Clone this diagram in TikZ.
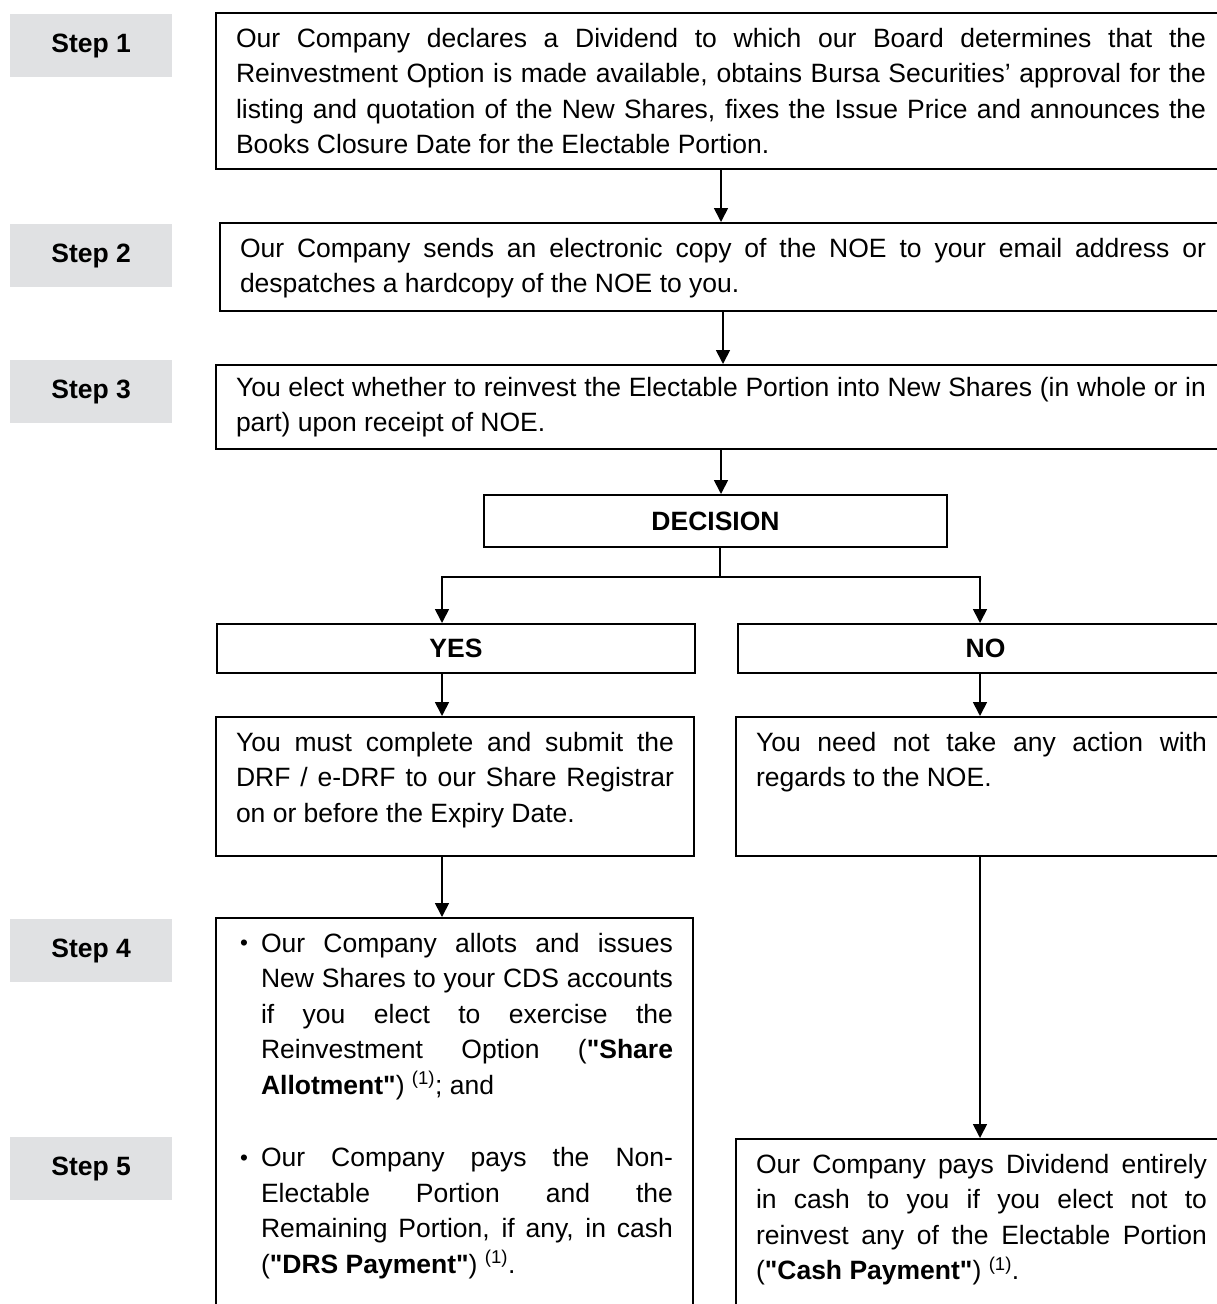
\documentclass[tikz,border=0pt]{standalone}
\usepackage{fontspec}
\setmainfont{Liberation Sans}[Ligatures=TeXOff]
\usetikzlibrary{arrows.meta}
\pgfdeclarelayer{edgelayer}
\pgfdeclarelayer{nodelayer}
\pgfsetlayers{edgelayer,nodelayer,main}
\definecolor{stepgray}{RGB}{224,225,227}
\tikzstyle{stepbox}=[fill=stepgray,minimum width=162pt,minimum height=63pt,inner sep=0pt,anchor=north west,font=\bfseries]
\tikzstyle{flowbox}=[draw=black,line width=2pt,fill=white,anchor=north west,inner xsep=20pt,inner ysep=0pt,align=justify,text height=34pt]
\tikzstyle{choice}=[draw=black,line width=2pt,fill=white,anchor=north west,inner sep=0pt,font=\bfseries]
\tikzstyle{transition}=[-{Triangle[width=14pt,length=14pt]},draw=black,line width=1.7pt]
\tikzstyle{branch}=[draw=black,line width=1.7pt]
\newcommand{\flowitem}{\hangindent=25pt\hangafter=1\noindent\makebox[25pt][l]{\hspace{4pt}\raisebox{1.2pt}{\scalebox{0.85}{\textbullet}}}}
\tolerance=10000
\hyphenpenalty=10000

\begin{document}
\fontsize{26.5}{35.5}\selectfont
\begin{tikzpicture}[x=1pt,y=-1pt]
	\useasboundingbox (0, 0) rectangle (1216, 1304);
	\begin{pgfonlayer}{nodelayer}
		\node [style=stepbox] (0) at (10, 14) {Step 1};
		\node [style=stepbox] (1) at (10, 224) {Step 2};
		\node [style=stepbox] (2) at (10, 360) {Step 3};
		\node [style=stepbox] (3) at (10, 919) {Step 4};
		\node [style=stepbox] (4) at (10, 1137) {Step 5};
		\node [style=flowbox, text width=970pt, text depth=122pt] (5) at (215, 12) {Our Company declares a Dividend to which our Board determines that the\linebreak Reinvestment Option is made available, obtains Bursa Securities’ approval for the\linebreak listing and quotation of the New Shares, fixes the Issue Price and announces the\linebreak Books Closure Date for the Electable Portion.};
		\node [style=flowbox, text width=966pt, text depth=54pt] (6) at (219, 222) {Our Company sends an electronic copy of the NOE to your email address or\linebreak despatches a hardcopy of the NOE to you.};
		\node [style=flowbox, text width=970pt, text height=31pt, text depth=53pt] (7) at (215, 364) {You elect whether to reinvest the Electable Portion into New Shares (in whole or in\linebreak part) upon receipt of NOE.};
		\node [style=choice, minimum width=463pt, minimum height=52pt] (8) at (483, 494) {DECISION};
		\node [style=choice, minimum width=478pt, minimum height=49pt] (9) at (216, 623) {YES};
		\node [style=choice, minimum width=495pt, minimum height=49pt] (10) at (737, 623) {NO};
		\node [style=flowbox, text width=438pt, text depth=105pt] (11) at (215, 716) {You must complete and submit the\linebreak DRF / e-DRF to our Share Registrar\linebreak on or before the Expiry Date.};
		\node [style=flowbox, text width=451pt, text depth=105pt] (12) at (735, 716) {You need not take any action with\linebreak regards to the NOE.};
		\node [style=flowbox, text width=437pt, text depth=380pt] (13) at (215, 917) {\flowitem Our Company allots and issues\linebreak New Shares to your CDS accounts\linebreak if you elect to exercise the\linebreak Reinvestment Option (\textbf{"Share\linebreak Allotment"}) \textsuperscript{(1)}; and\par\vspace{37pt}\flowitem Our Company pays the Non-\linebreak Electable Portion and the\linebreak Remaining Portion, if any, in cash\linebreak (\textbf{"DRS Payment"}) \textsuperscript{(1)}.\par};
		\node [style=flowbox, text width=451pt, text depth=150pt] (14) at (735, 1138) {Our Company pays Dividend entirely\linebreak in cash to you if you elect not to\linebreak reinvest any of the Electable Portion\linebreak (\textbf{"Cash Payment"}) \textsuperscript{(1)}.};
		\coordinate (15) at (720, 577);
		\coordinate (16) at (442, 577);
		\coordinate (17) at (980, 577);
	\end{pgfonlayer}
	\begin{pgfonlayer}{edgelayer}
		\draw [style=transition] (5.south) -- (5.south |- 6.north);
		\draw [style=transition] (6.south) -- (6.south |- 7.north);
		\draw [style=transition] (7.south) -- (7.south |- 8.north);
		\draw [style=branch] (8.south -| 15) -- (15);
		\draw [style=transition] (15) -| (9.north -| 16);
		\draw [style=transition] (15) -| (10.north -| 17);
		\draw [style=transition] (9.south -| 16) -- (11.north -| 16);
		\draw [style=transition] (10.south -| 17) -- (12.north -| 17);
		\draw [style=transition] (11.south -| 16) -- (13.north -| 16);
		\draw [style=transition] (12.south -| 17) -- (14.north -| 17);
	\end{pgfonlayer}
\end{tikzpicture}
\end{document}
